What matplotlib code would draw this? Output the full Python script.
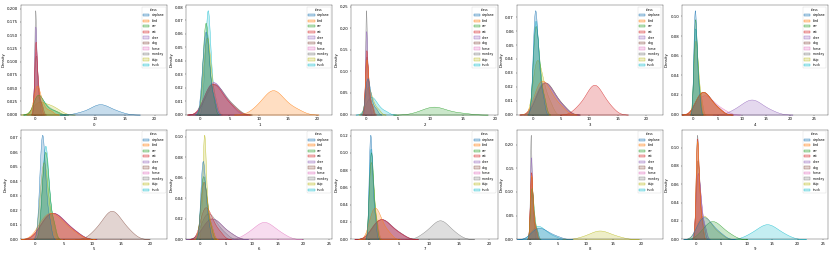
import numpy as np
import pandas as pd
import matplotlib
matplotlib.use("Agg")
import matplotlib.pyplot as plt
import seaborn as sns

classes = ["airplane", "bird", "car", "cat", "deer", "dog", "horse", "monkey", "ship", "truck"]

# sample values per class (class order as above), one block per output column
col0 = [
    [7.5, 8.9, 9.6, 10.1, 10.5, 10.8, 11.1, 11.4, 11.8, 12.4, 13.1, 14.2],
    [0.0, 0.05, 0.1, 0.2, 0.3, 0.4, 0.55, 0.7, 0.9, 1.2, 1.7, 2.6],
    [0.0, 0.1, 0.25, 0.4, 0.55, 0.7, 0.9, 1.1, 1.4, 1.9, 2.6, 3.6],
    [0.0, 0.0, 0.03, 0.07, 0.11, 0.16, 0.22, 0.27, 0.35, 0.47, 0.68, 1.0],
    [0.0, 0.0, 0.01, 0.04, 0.08, 0.12, 0.16, 0.22, 0.28, 0.38, 0.54, 0.84],
    [0.0, 0.01, 0.04, 0.08, 0.14, 0.2, 0.27, 0.35, 0.45, 0.6, 0.84, 1.2],
    [0.0, 0.01, 0.04, 0.08, 0.12, 0.18, 0.24, 0.32, 0.42, 0.57, 0.78, 1.15],
    [0.0, 0.0, 0.01, 0.03, 0.05, 0.08, 0.12, 0.17, 0.23, 0.32, 0.46, 0.72],
    [0.0, 0.15, 0.35, 0.6, 0.9, 1.3, 1.7, 2.1, 2.5, 2.9, 3.4, 4.2],
    [0.0, 0.1, 0.2, 0.35, 0.5, 0.7, 0.9, 1.2, 1.5, 1.9, 2.5, 3.3],
]
col1 = [
    [0.2, 0.45, 0.6, 0.75, 0.85, 0.95, 1.05, 1.15, 1.3, 1.5, 1.8, 2.4],
    [9.4, 10.5, 11.2, 11.7, 12.1, 12.4, 12.7, 13.1, 13.6, 14.2, 15.1, 16.6],
    [0.3, 0.5, 0.65, 0.75, 0.85, 0.95, 1.05, 1.15, 1.3, 1.45, 1.7, 2.2],
    [0.5, 1.0, 1.4, 1.7, 2.0, 2.3, 2.6, 3.0, 3.4, 3.9, 4.6, 5.7],
    [0.6, 1.1, 1.5, 1.8, 2.1, 2.4, 2.7, 3.0, 3.4, 3.9, 4.5, 5.5],
    [0.7, 1.2, 1.6, 1.9, 2.2, 2.5, 2.8, 3.2, 3.6, 4.1, 4.8, 5.9],
    [0.5, 1.0, 1.4, 1.7, 2.0, 2.3, 2.6, 2.9, 3.3, 3.8, 4.4, 5.4],
    [0.6, 1.2, 1.6, 2.0, 2.3, 2.6, 2.9, 3.3, 3.7, 4.2, 4.9, 6.0],
    [0.3, 0.6, 0.8, 0.95, 1.05, 1.15, 1.25, 1.4, 1.55, 1.75, 2.05, 2.6],
    [0.6, 0.85, 1.0, 1.1, 1.2, 1.28, 1.36, 1.45, 1.55, 1.7, 1.9, 2.3],
]
col2 = [
    [0.0, 0.05, 0.1, 0.18, 0.25, 0.33, 0.42, 0.52, 0.65, 0.82, 1.1, 1.6],
    [0.0, 0.0, 0.03, 0.07, 0.13, 0.18, 0.24, 0.31, 0.39, 0.52, 0.7, 1.05],
    [7.9, 8.9, 9.5, 9.9, 10.3, 10.6, 10.9, 11.3, 11.8, 12.5, 13.5, 15.2],
    [0.0, 0.0, 0.01, 0.04, 0.08, 0.14, 0.2, 0.25, 0.32, 0.42, 0.59, 0.91],
    [0.0, 0.0, 0.01, 0.03, 0.06, 0.1, 0.14, 0.18, 0.24, 0.32, 0.46, 0.73],
    [0.0, 0.0, 0.03, 0.07, 0.11, 0.17, 0.22, 0.29, 0.38, 0.49, 0.67, 1.0],
    [0.0, 0.01, 0.04, 0.08, 0.13, 0.18, 0.24, 0.31, 0.39, 0.52, 0.7, 1.09],
    [0.0, 0.0, 0.0, 0.01, 0.04, 0.07, 0.1, 0.14, 0.18, 0.25, 0.36, 0.59],
    [0.0, 0.08, 0.16, 0.25, 0.35, 0.46, 0.58, 0.72, 0.9, 1.12, 1.45, 2.0],
    [0.05, 0.25, 0.45, 0.62, 0.78, 0.95, 1.12, 1.32, 1.55, 1.85, 2.3, 3.1],
]
col3 = [
    [0.0, 0.1, 0.2, 0.28, 0.36, 0.45, 0.55, 0.66, 0.8, 0.98, 1.25, 1.75],
    [0.2, 0.6, 0.95, 1.25, 1.5, 1.8, 2.1, 2.45, 2.85, 3.35, 4.0, 5.1],
    [0.0, 0.12, 0.24, 0.34, 0.44, 0.55, 0.67, 0.8, 0.96, 1.16, 1.45, 2.0],
    [7.8, 8.9, 9.6, 10.1, 10.4, 10.7, 11.0, 11.3, 11.7, 12.1, 12.8, 13.8],
    [0.3, 0.8, 1.2, 1.55, 1.85, 2.15, 2.45, 2.8, 3.2, 3.7, 4.35, 5.4],
    [0.4, 0.9, 1.3, 1.65, 1.95, 2.25, 2.55, 2.9, 3.3, 3.8, 4.45, 5.5],
    [0.3, 0.75, 1.15, 1.5, 1.8, 2.1, 2.4, 2.75, 3.15, 3.65, 4.3, 5.3],
    [0.4, 0.95, 1.35, 1.7, 2.0, 2.3, 2.6, 2.95, 3.35, 3.85, 4.5, 5.6],
    [0.0, 0.2, 0.38, 0.55, 0.72, 0.9, 1.1, 1.32, 1.58, 1.9, 2.35, 3.1],
    [0.0, 0.12, 0.22, 0.32, 0.42, 0.52, 0.63, 0.75, 0.9, 1.1, 1.38, 1.9],
]
col4 = [
    [0.0, 0.08, 0.15, 0.22, 0.28, 0.34, 0.41, 0.49, 0.58, 0.7, 0.88, 1.2],
    [0.2, 0.7, 1.1, 1.45, 1.75, 2.05, 2.35, 2.7, 3.1, 3.6, 4.25, 5.3],
    [0.0, 0.1, 0.18, 0.25, 0.32, 0.39, 0.46, 0.55, 0.65, 0.78, 0.96, 1.3],
    [0.25, 0.75, 1.15, 1.5, 1.8, 2.1, 2.4, 2.75, 3.15, 3.65, 4.3, 5.4],
    [8.1, 9.5, 10.3, 10.9, 11.4, 11.9, 12.3, 12.7, 13.2, 13.9, 14.8, 16.3],
    [0.3, 0.8, 1.2, 1.55, 1.85, 2.15, 2.45, 2.8, 3.2, 3.7, 4.35, 5.4],
    [0.3, 0.9, 1.35, 1.75, 2.1, 2.45, 2.8, 3.2, 3.7, 4.3, 5.1, 6.4],
    [0.2, 0.7, 1.1, 1.45, 1.75, 2.05, 2.35, 2.7, 3.1, 3.6, 4.2, 5.2],
    [0.0, 0.1, 0.2, 0.3, 0.39, 0.48, 0.58, 0.69, 0.82, 0.98, 1.22, 1.65],
    [0.0, 0.1, 0.18, 0.26, 0.34, 0.42, 0.5, 0.6, 0.71, 0.85, 1.05, 1.42],
]
col5 = [
    [0.7, 0.9, 1.03, 1.13, 1.22, 1.31, 1.4, 1.5, 1.63, 1.8, 2.05, 2.55],
    [0.6, 1.2, 1.7, 2.1, 2.5, 2.9, 3.3, 3.75, 4.25, 4.9, 5.7, 7.0],
    [1.1, 1.35, 1.5, 1.62, 1.73, 1.84, 1.95, 2.07, 2.22, 2.42, 2.72, 3.3],
    [0.8, 1.5, 2.0, 2.4, 2.8, 3.2, 3.6, 4.05, 4.55, 5.15, 5.95, 7.2],
    [0.9, 1.6, 2.1, 2.5, 2.9, 3.3, 3.7, 4.15, 4.65, 5.25, 6.05, 7.3],
    [10.2, 11.3, 12.0, 12.5, 12.9, 13.2, 13.5, 13.9, 14.3, 14.8, 15.5, 16.6],
    [0.8, 1.45, 1.95, 2.35, 2.75, 3.15, 3.55, 4.0, 4.5, 5.1, 5.9, 7.1],
    [0.9, 1.55, 2.05, 2.45, 2.85, 3.25, 3.65, 4.1, 4.6, 5.2, 6.0, 7.3],
    [0.7, 1.0, 1.18, 1.32, 1.45, 1.57, 1.7, 1.84, 2.0, 2.22, 2.55, 3.15],
    [1.15, 1.38, 1.52, 1.64, 1.75, 1.85, 1.95, 2.06, 2.2, 2.38, 2.65, 3.2],
]
col6 = [
    [0.0, 0.15, 0.27, 0.37, 0.46, 0.55, 0.64, 0.74, 0.86, 1.01, 1.23, 1.65],
    [0.0, 0.2, 0.35, 0.48, 0.6, 0.72, 0.85, 0.99, 1.16, 1.37, 1.68, 2.25],
    [0.0, 0.18, 0.31, 0.43, 0.54, 0.65, 0.77, 0.9, 1.05, 1.24, 1.52, 2.05],
    [0.0, 0.3, 0.55, 0.78, 1.0, 1.22, 1.45, 1.72, 2.05, 2.45, 3.0, 3.9],
    [0.3, 0.9, 1.35, 1.75, 2.1, 2.45, 2.8, 3.2, 3.65, 4.2, 4.95, 6.2],
    [0.3, 0.85, 1.3, 1.7, 2.05, 2.4, 2.75, 3.15, 3.6, 4.15, 4.9, 6.1],
    [8.8, 10.0, 10.8, 11.4, 11.8, 12.2, 12.6, 13.0, 13.5, 14.1, 14.9, 16.1],
    [0.1, 0.5, 0.85, 1.15, 1.42, 1.7, 2.0, 2.32, 2.7, 3.15, 3.75, 4.8],
    [0.33, 0.5, 0.59, 0.66, 0.72, 0.79, 0.86, 0.93, 1.02, 1.13, 1.3, 1.6],
    [0.0, 0.22, 0.37, 0.5, 0.62, 0.74, 0.87, 1.01, 1.17, 1.38, 1.68, 2.25],
]
col7 = [
    [0.0, 0.05, 0.11, 0.17, 0.22, 0.28, 0.34, 0.41, 0.49, 0.6, 0.76, 1.05],
    [0.0, 0.3, 0.52, 0.72, 0.9, 1.1, 1.3, 1.52, 1.78, 2.1, 2.55, 3.35],
    [0.0, 0.1, 0.18, 0.25, 0.32, 0.39, 0.46, 0.54, 0.63, 0.75, 0.92, 1.25],
    [0.3, 0.8, 1.2, 1.55, 1.85, 2.15, 2.45, 2.8, 3.2, 3.7, 4.35, 5.4],
    [0.35, 0.85, 1.25, 1.6, 1.9, 2.2, 2.5, 2.85, 3.25, 3.75, 4.4, 5.45],
    [0.4, 0.9, 1.3, 1.65, 1.95, 2.25, 2.55, 2.9, 3.3, 3.8, 4.45, 5.5],
    [0.3, 0.8, 1.2, 1.55, 1.85, 2.15, 2.45, 2.8, 3.2, 3.7, 4.3, 5.3],
    [8.9, 9.9, 10.5, 11.0, 11.35, 11.65, 11.95, 12.25, 12.6, 13.05, 13.65, 14.6],
    [0.0, 0.08, 0.16, 0.24, 0.32, 0.4, 0.48, 0.57, 0.68, 0.82, 1.02, 1.4],
    [0.0, 0.07, 0.14, 0.21, 0.27, 0.34, 0.41, 0.49, 0.58, 0.7, 0.87, 1.2],
]
col8 = [
    [0.1, 0.5, 0.85, 1.15, 1.45, 1.75, 2.05, 2.4, 2.8, 3.3, 3.95, 5.0],
    [0.0, 0.0, 0.03, 0.07, 0.12, 0.17, 0.22, 0.29, 0.37, 0.49, 0.66, 1.0],
    [0.0, 0.04, 0.09, 0.14, 0.2, 0.27, 0.34, 0.42, 0.52, 0.65, 0.84, 1.2],
    [0.0, 0.0, 0.03, 0.07, 0.11, 0.16, 0.21, 0.28, 0.36, 0.46, 0.63, 0.95],
    [0.0, 0.0, 0.01, 0.04, 0.08, 0.12, 0.16, 0.21, 0.28, 0.37, 0.51, 0.79],
    [0.0, 0.01, 0.04, 0.08, 0.12, 0.17, 0.24, 0.3, 0.38, 0.5, 0.69, 1.03],
    [0.0, 0.01, 0.05, 0.09, 0.15, 0.2, 0.26, 0.34, 0.44, 0.57, 0.77, 1.12],
    [0.0, 0.0, 0.0, 0.01, 0.04, 0.07, 0.11, 0.15, 0.2, 0.28, 0.4, 0.63],
    [9.3, 10.5, 11.2, 11.7, 12.1, 12.45, 12.8, 13.2, 13.65, 14.2, 15.0, 16.2],
    [0.1, 0.45, 0.75, 1.0, 1.25, 1.5, 1.76, 2.05, 2.4, 2.82, 3.4, 4.4],
]
col9 = [
    [0.1, 0.5, 0.85, 1.15, 1.45, 1.75, 2.05, 2.4, 2.8, 3.3, 3.95, 5.0],
    [0.0, 0.03, 0.08, 0.13, 0.18, 0.25, 0.32, 0.41, 0.51, 0.65, 0.85, 1.23],
    [0.8, 1.6, 2.15, 2.55, 2.9, 3.25, 3.6, 4.0, 4.45, 5.0, 5.7, 6.9],
    [0.0, 0.04, 0.09, 0.14, 0.2, 0.26, 0.33, 0.41, 0.51, 0.64, 0.83, 1.2],
    [0.0, 0.08, 0.16, 0.25, 0.34, 0.44, 0.55, 0.67, 0.81, 0.99, 1.25, 1.75],
    [0.0, 0.06, 0.13, 0.2, 0.28, 0.36, 0.45, 0.55, 0.67, 0.82, 1.05, 1.5],
    [0.0, 0.08, 0.17, 0.26, 0.35, 0.45, 0.56, 0.68, 0.82, 1.0, 1.27, 1.78],
    [0.0, 0.04, 0.08, 0.13, 0.18, 0.24, 0.31, 0.39, 0.49, 0.62, 0.81, 1.15],
    [0.1, 0.45, 0.78, 1.05, 1.32, 1.6, 1.88, 2.2, 2.58, 3.05, 3.7, 4.8],
    [10.2, 11.5, 12.3, 12.9, 13.4, 13.8, 14.2, 14.6, 15.1, 15.7, 16.5, 17.8],
]

columns = [col0, col1, col2, col3, col4, col5, col6, col7, col8, col9]
x_limits = [(-2.3, 22.1), (-2.4, 22.6), (-2.2, 20.4), (-2.9, 23.0), (-2.4, 27.8),
            (-2.4, 23.0), (-2.7, 25.6), (-2.9, 21.4), (-2.5, 24.0), (-2.8, 26.0)]


def long_frame(name, samples):
    """Stack the per-class samples into one long table for seaborn"""
    rows = []
    for cls, values in zip(classes, samples):
        for v in values:
            rows.append((v, cls))
    return pd.DataFrame(rows, columns=[name, "class"])


def main():
    plt.rcParams["legend.fontsize"] = 8
    plt.rcParams["legend.title_fontsize"] = 8

    fig, axes = plt.subplots(2, 5, figsize=(30, 9.145), dpi=830 / 30)
    fig.subplots_adjust(left=0.0253, right=0.9976, top=0.980, bottom=0.055,
                        wspace=0.13, hspace=0.137)

    for i, (ax, samples) in enumerate(zip(axes.flat, columns)):
        df = long_frame(str(i), samples)
        sns.kdeplot(data=df, x=str(i), hue="class", hue_order=classes,
                    fill=True, ax=ax)
        ax.set_xlim(*x_limits[i])

    fig.savefig("out.png", dpi=830 / 30)


if __name__ == "__main__":
    main()
